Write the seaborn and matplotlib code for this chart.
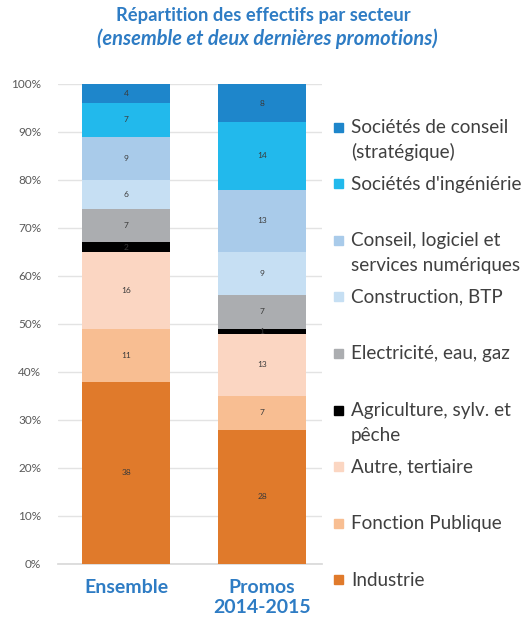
import numpy as np
import pandas as pd
import matplotlib
matplotlib.use("Agg")
import matplotlib.pyplot as plt
from matplotlib.patches import Rectangle
import seaborn as sns

categories = ["Ensemble", "Promos\n2014-2015"]
sectors = ["Industrie", "Fonction Publique", "Autre, tertiaire",
           "Agriculture, sylv. et\npêche", "Electricité, eau, gaz",
           "Construction, BTP", "Conseil, logiciel et\nservices numériques",
           "Sociétés d'ingéniérie", "Sociétés de conseil\n(stratégique)"]
ensemble = [38, 11, 16, 2, 7, 6, 9, 7, 4]
promos = [28, 7, 13, 1, 7, 9, 13, 14, 8]
colors = ["#E07A2B", "#F8BE92", "#FBD6C2", "#000000", "#ABADB0",
          "#C6DFF3", "#A9CBEA", "#22B9EC", "#1E86CB"]
yticks = [0, 10, 20, 30, 40, 50, 60, 70, 80, 90, 100]
ytick_labels = ["0%", "10%", "20%", "30%", "40%", "50%", "60%", "70%", "80%", "90%", "100%"]

sns.set_theme(style="white")
plt.rcParams["font.family"] = ["Lato", "DejaVu Sans"]

W, H = 526, 621
fig = plt.figure(figsize=(W / 100, H / 100), dpi=100)
ax = fig.add_axes([58 / W, 1 - 564 / H, 264 / W, 480 / H])

vals = np.array([ensemble, promos], dtype=float)
cum = np.cumsum(vals, axis=1)
# draw from top layer down so lower segments overlay
for i in range(len(sectors) - 1, -1, -1):
    df = pd.DataFrame({"cat": categories, "top": cum[:, i]})
    sns.barplot(data=df, x="cat", y="top", color=colors[i], width=0.65,
                saturation=1, ax=ax, zorder=3, linewidth=0)

for j in range(len(categories)):
    for i in range(len(sectors)):
        mid = cum[j, i] - vals[j, i] / 2
        ax.text(j, mid, f"{int(vals[j, i])}", ha="center", va="center",
                fontsize=6, color="#3a3a3a", zorder=5)

ax.set_xlim(-0.5, 1.44)
ax.set_ylim(0, 100)
ax.set_yticks(yticks)
ax.set_yticklabels(ytick_labels, fontsize=8.5, color="#595959")
ax.yaxis.grid(True, color="#E3E3E3", linewidth=1)
ax.set_axisbelow(True)
ax.set_xlabel("")
ax.set_ylabel("")
for s in ["top", "right", "left"]:
    ax.spines[s].set_visible(False)
ax.spines["bottom"].set_color("#D9D9D9")
ax.tick_params(axis="y", length=0, pad=12)
ax.tick_params(axis="x", length=0, pad=11)
ax.set_xticks([0, 1])
ax.set_xticklabels(categories, fontsize=14, fontweight="bold", color="#2E7CC4",
                   linespacing=1.2)
ax.set_xticks([0.5], minor=True)
ax.tick_params(axis="x", which="minor", length=5, color="#D9D9D9", width=1)

fig.text(263 / W, 1 - 15 / H, "Répartition des effectifs par secteur",
         ha="center", va="center", fontsize=13.2, fontweight="bold", color="#2E7CC4")
fig.text(267 / W, 1 - 39 / H, "(ensemble et deux dernières promotions)",
         ha="center", va="center", fontsize=14.4, fontweight="bold", style="italic",
         color="#2E7CC4")

# legend (top to bottom)
for k, i in enumerate(range(len(sectors) - 1, -1, -1)):
    yc = 127 + 56.6 * k
    fig.patches.append(Rectangle((334 / W, 1 - (yc + 4.5) / H), 9 / W, 9 / H,
                                 transform=fig.transFigure, color=colors[i]))
    for n, line in enumerate(sectors[i].split("\n")):
        fig.text(351 / W, 1 - (yc + 6 + 25 * n) / H, line, ha="left", va="baseline",
                 fontsize=13.6, color="#404040")

fig.savefig("out.png", dpi=100)
